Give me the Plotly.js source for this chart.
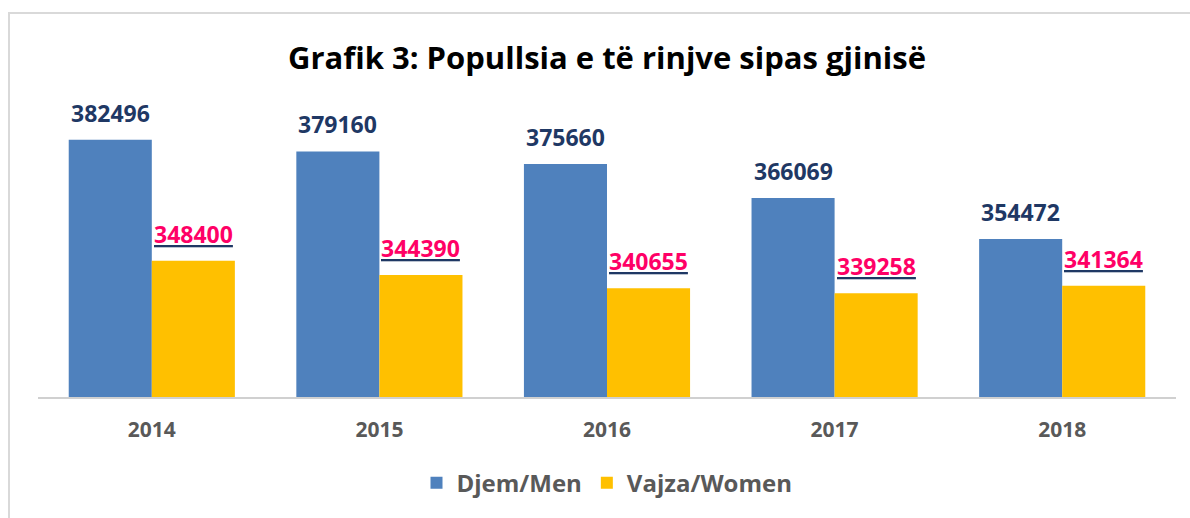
<!DOCTYPE html>
<html>
<head>
<meta charset="utf-8">
<script src="https://cdn.plot.ly/plotly-3.0.1.min.js"></script>
<style>
  html, body { margin: 0; padding: 0; background: #fff; overflow: hidden; }
  #frame { position: absolute; left: 8px; top: 12px; width: 1300px; height: 600px;
           border-top: 2px solid #d9d9d9; border-left: 2px solid #d9d9d9; pointer-events: none; z-index: 2; }
  #chart { position: absolute; left: 0; top: 0; width: 1190px; height: 518px; }
</style>
</head>
<body>
<div id="chart"></div>
<div id="frame"></div>
<script>
const years = ['2014', '2015', '2016', '2017', '2018'];
const men = [382496, 379160, 375660, 366069, 354472];
const women = [348400, 344390, 340655, 339258, 341364];
const menName = 'Djem/Men';
const womenName = 'Vajza/Women';
const titleText = 'Grafik 3: Popullsia e të rinjve sipas gjinisë';

const FONT = 'Open Sans, sans-serif';
const traces = [
  { type: 'bar', name: menName, x: years, y: men, marker: { color: '#4F81BD' }, hoverinfo: 'skip' },
  { type: 'bar', name: womenName, x: years, y: women, marker: { color: '#FFC000' }, hoverinfo: 'skip' }
];

const annotations = [];
years.forEach((yr, i) => {
  annotations.push({
    x: i, y: men[i], xref: 'x', yref: 'y', xshift: -41.5, yshift: 27,
    xanchor: 'center', yanchor: 'middle', showarrow: false,
    text: '<b>' + men[i] + '</b>',
    font: { family: FONT, size: 23, color: '#1F3864', weight: 'bold' }
  });
  annotations.push({
    x: i, y: women[i], xref: 'x', yref: 'y', xshift: 41.5, yshift: 27,
    xanchor: 'center', yanchor: 'middle', showarrow: false,
    text: '<span style="color:#1F3864"><u><span style="color:#FF0066"><b>' + women[i] + '</b></span></u></span>',
    font: { family: FONT, size: 23, color: '#FF0066', weight: 'bold' }
  });
});

const layout = {
  width: 1190, height: 518,
  margin: { l: 38, r: 14, t: 113, b: 118 },
  paper_bgcolor: '#ffffff', plot_bgcolor: '#ffffff',
  font: { family: FONT },
  title: {
    text: '<b>' + titleText + '</b>',
    font: { family: FONT, size: 31, color: '#000000' },
    x: 0.5, xanchor: 'center', xref: 'paper',
    y: 1 - 58 / 518, yanchor: 'middle', yref: 'container'
  },
  barmode: 'group', bargap: 0.27, bargroupgap: 0,
  xaxis: {
    type: 'category', range: [-0.5, years.length - 0.5], autorange: false,
    showline: true, linecolor: '#D0D0D0', linewidth: 2,
    ticks: '', showgrid: false, zeroline: false,
    tickfont: { family: FONT, size: 21, color: '#595959', weight: 'bold' },
    ticklabelstandoff: 13
  },
  yaxis: {
    range: [310000, 390000], autorange: false, visible: false, showgrid: false, zeroline: false, fixedrange: true
  },
  showlegend: true,
  legend: {
    orientation: 'h', x: 0.5, xanchor: 'center', xref: 'paper',
    y: (400 - 487) / 287, yanchor: 'middle',
    font: { family: FONT, size: 24, color: '#595959', weight: 'bold' },
    itemwidth: 30, tracegroupgap: 0
  },
  annotations: annotations
};

Plotly.newPlot('chart', traces, layout, { staticPlot: true, displayModeBar: false });
</script>
</body>
</html>
